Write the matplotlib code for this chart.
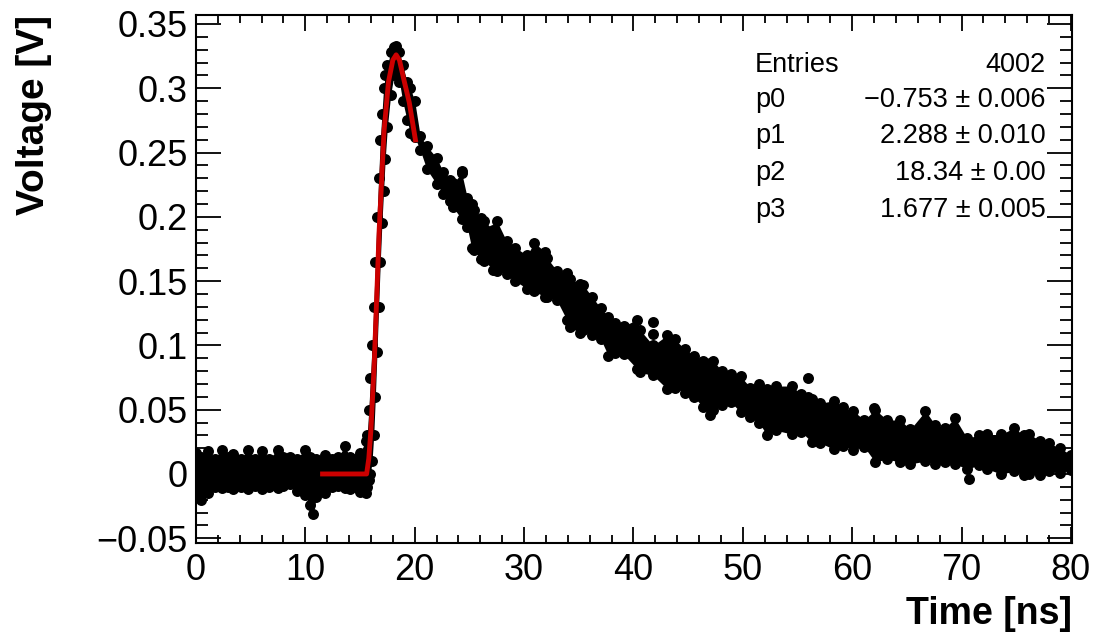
import matplotlib
matplotlib.use("Agg")
import matplotlib.pyplot as plt
from matplotlib.ticker import FixedLocator, MultipleLocator

# ---------------- data ----------------
# envelope of the dense scatter band (upper / lower dot centres), time in ns, voltage in V
t_env = [0.0, 0.5, 1.1, 1.7, 2.35, 2.9, 3.4, 4.1, 4.8, 5.4, 6.0, 6.7, 7.5, 8.0, 8.6,
         9.2, 10.0, 10.4, 10.7, 11.0, 11.8, 12.4, 13.0, 13.6, 14.1, 14.6, 15.0, 15.5,
         15.65, 15.8, 15.95, 16.1, 16.25, 16.4, 16.55, 16.7, 16.85, 17.0, 17.15, 17.3,
         17.5, 17.8, 18.1, 18.3, 18.6, 18.9, 19.3,
         19.6, 20.0, 20.5, 21.1, 22.0, 22.6, 23.2, 23.5, 24.3, 24.8, 25.2, 25.4, 26.1,
         26.3, 27.2, 27.5, 28.4, 29.2, 30.3, 30.9, 31.9, 32.1, 33.0, 33.9, 34.2, 35.1,
         35.4, 36.2, 37.0, 37.7, 38.3, 39.1, 40.3, 40.6, 41.8, 43.1, 43.8, 44.7, 45.5,
         46.4, 47.0, 47.3, 48.1, 48.9, 49.8, 50.7, 51.5, 52.2, 53.0, 54.5, 55.3, 56.3,
         57.1, 58.3, 59.2, 60.1, 61.1, 62.1, 63.2, 64.4, 65.3, 66.7, 67.6, 68.5, 69.4,
         70.5, 71.6, 72.3, 73.6, 74.8, 75.7, 76.2, 77.2, 78.0, 79.0, 80.0]
v_hi = [0.016, 0.013, 0.0175, 0.012, 0.019, 0.013, 0.0155, 0.012, 0.019, 0.012, 0.0175,
        0.012, 0.019, 0.013, 0.013, 0.012, 0.019, 0.013, 0.011, 0.012, 0.015, 0.012,
        0.013, 0.0216, 0.013, 0.012, 0.016, 0.0255,
        0.030, 0.050, 0.075, 0.100, 0.130, 0.165, 0.200, 0.230, 0.260, 0.280, 0.300,
        0.310, 0.318, 0.328, 0.332, 0.333, 0.328, 0.318, 0.305,
        0.300, 0.290, 0.263, 0.255, 0.246, 0.235, 0.229, 0.226, 0.234,
        0.215, 0.2096, 0.205, 0.199, 0.197, 0.190, 0.197, 0.181, 0.176, 0.170, 0.180,
        0.173, 0.168, 0.158, 0.156, 0.152, 0.148, 0.147, 0.138, 0.129, 0.122, 0.1175,
        0.115, 0.120, 0.112, 0.100, 0.108, 0.1046, 0.097, 0.092, 0.088, 0.086, 0.088,
        0.080, 0.078, 0.076, 0.067, 0.070, 0.066, 0.0684, 0.0684, 0.062, 0.058, 0.055,
        0.057, 0.052, 0.049, 0.042, 0.050, 0.042, 0.042, 0.0346, 0.049, 0.038, 0.0358,
        0.0435, 0.028, 0.030, 0.0307, 0.0307, 0.0358, 0.030, 0.0307, 0.026, 0.024,
        0.020, 0.015]
v_lo = [-0.016, -0.020, -0.015, -0.010, -0.011, -0.010, -0.012, -0.010, -0.012, -0.009,
        -0.012, -0.010, -0.011, -0.009, -0.008, -0.013, -0.0167, -0.0245, -0.031,
        -0.018, -0.015, -0.010, -0.009, -0.011, -0.012, -0.010, -0.014, -0.015,
        -0.010, -0.005, 0.000, 0.010, 0.030, 0.060, 0.095, 0.130, 0.165, 0.195, 0.220,
        0.245, 0.270, 0.295, 0.310, 0.312, 0.305, 0.290, 0.275,
        0.265, 0.262, 0.252, 0.237, 0.2255, 0.218, 0.212, 0.2076, 0.198,
        0.192, 0.176, 0.174, 0.167, 0.166, 0.159, 0.158, 0.1555, 0.150, 0.144, 0.142,
        0.138, 0.1376, 0.135, 0.120, 0.114, 0.110, 0.112, 0.108, 0.105, 0.092, 0.094,
        0.093, 0.082, 0.079, 0.0766, 0.066, 0.067, 0.063, 0.060, 0.052, 0.0455, 0.050,
        0.054, 0.056, 0.048, 0.044, 0.040, 0.030, 0.034, 0.031, 0.033, 0.025, 0.024,
        0.0194, 0.022, 0.019, 0.021, 0.0093, 0.0117, 0.009, 0.0078, 0.010, 0.0078,
        0.009, 0.0078, 0.004, 0.0066, 0.004, 0.000, 0.002, -0.001, 0.000, -0.001,
        0.002, 0.001, 0.003]

# isolated samples standing out of the band
t_out = [41.8, 41.8, 56.0, 56.0, 70.7, 62.0, 24.3]
v_out = [0.118, 0.109, 0.0746, 0.060, -0.0039, 0.051, 0.236]

# fitted curve (red)
t_fit = [11.35, 15.6, 15.8, 16.0, 16.3, 16.75, 17.2, 17.6, 18.0, 18.3, 18.6, 19.0, 19.5, 20.1]
v_fit = [0.0, 0.0, 0.012, 0.035, 0.086, 0.190, 0.2675, 0.305, 0.322, 0.326, 0.322, 0.307,
         0.289, 0.258]

x_ticks = [0, 10, 20, 30, 40, 50, 60, 70, 80]
y_ticks = [-0.05, 0, 0.05, 0.1, 0.15, 0.2, 0.25, 0.3, 0.35]
y_tick_labels = ["\u22120.05", "0", "0.05", "0.1", "0.15", "0.2", "0.25", "0.3", "0.35"]

stat_names = ["Entries", "p0", "p1", "p2", "p3"]
stat_values = ["4002", "\u22120.753 \u00b1 0.006", "2.288 \u00b1 0.010",
               "18.34 \u00b1 0.00", "1.677 \u00b1 0.005"]

# ---------------- drawing ----------------
plt.rcParams['font.family'] = ['Liberation Sans', 'DejaVu Sans']

W, H = 1094, 633
fig = plt.figure(figsize=(W / 100, H / 100), dpi=100)
ax = fig.add_axes([196 / W, 1 - 543 / H, (1072 - 196) / W, (543 - 15) / H])

ax.fill_between(t_env, v_lo, v_hi, color='black', lw=0, zorder=2)
ms = 7.9
ax.plot(t_env, v_hi, 'o', color='black', ms=ms, mew=0, zorder=3)
ax.plot(t_env, v_lo, 'o', color='black', ms=ms, mew=0, zorder=3)
ax.plot(t_out, v_out, 'o', color='black', ms=ms, mew=0, zorder=3)

ax.plot(t_fit, v_fit, '-', color='#cc0000', lw=3.5, zorder=4, solid_capstyle='butt')

ax.set_xlim(0, 80.1)
ax.set_ylim(-0.0537, 0.357)

ax.xaxis.set_major_locator(FixedLocator(x_ticks))
ax.xaxis.set_minor_locator(MultipleLocator(2))
ax.yaxis.set_major_locator(FixedLocator(y_ticks))
ax.set_yticklabels(y_tick_labels)
ax.yaxis.set_minor_locator(MultipleLocator(0.01))

ax.tick_params(axis='both', which='both', direction='in', top=True, right=True,
               width=1.3, color='black')
ax.tick_params(axis='x', which='major', length=11.5, labelsize=26, pad=7)
ax.tick_params(axis='x', which='minor', length=5.8)
ax.tick_params(axis='y', which='major', length=18, labelsize=26, pad=6)
ax.tick_params(axis='y', which='minor', length=8.6)
for sp in ax.spines.values():
    sp.set_linewidth(1.5)

fig.text(1072 / W, 1 - 624 / H, "Time [ns]", ha='right', va='baseline',
         fontsize=27, fontweight='bold')
fig.text(52 / W, 1 - 15 / H, "Voltage [V]", ha='right', va='top', rotation=90,
         fontsize=28, fontweight='bold')

baselines = [72, 107, 143, 180, 217]
for name, val, yb in zip(stat_names, stat_values, baselines):
    fig.text(755 / W, 1 - yb / H, name, ha='left', va='baseline', fontsize=19.5)
    fig.text(1046 / W, 1 - yb / H, val, ha='right', va='baseline', fontsize=19.5)

fig.savefig("out.png", dpi=100)
